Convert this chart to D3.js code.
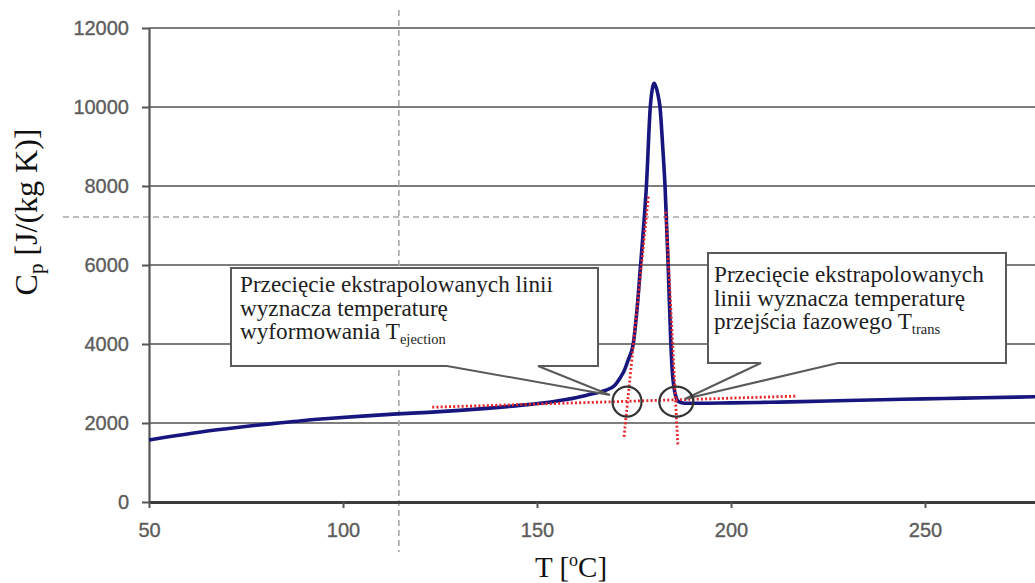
<!DOCTYPE html>
<html>
<head>
<meta charset="utf-8">
<script src="https://cdn.jsdelivr.net/npm/d3@7"></script>
<style>
  body { margin: 0; background: #fff; }
  svg { display: block; }
</style>
</head>
<body>
<svg id="chart" width="1035" height="583"></svg>
<script>
// Measured specific heat curve, Cp [J/(kg K)] against temperature [°C]
const temperature = [50, 55, 62, 70, 77, 84, 90, 97, 105, 114, 122, 130, 137, 145, 154, 160, 163, 166, 168, 170,
  171.4, 172.5, 173.5, 174.8, 175.8, 176.7, 177.5, 178.2, 179.2, 179.8, 180.2, 180.7, 181.2, 181.7, 182.4, 183,
  183.8, 184.5, 184.9, 185.3, 185.8, 186.5, 188, 191, 200, 210, 218, 230, 244, 255, 265, 279];
const cp = [1570, 1650, 1755, 1855, 1935, 2005, 2065, 2120, 2175, 2230, 2270, 2320, 2370, 2440, 2540, 2640, 2710, 2780, 2840, 2950,
  3140, 3330, 3595, 4000, 4900, 6000, 7000, 8000, 10000, 10500, 10600, 10500, 10300, 10000, 9000, 8000,
  6000, 4000, 3260, 2900, 2665, 2540, 2500, 2500, 2510, 2525, 2540, 2570, 2600, 2620, 2640, 2665];

// Axis ticks
const xTicks = [50, 100, 150, 200, 250];
const yTicks = [0, 2000, 4000, 6000, 8000, 10000, 12000];

// Extrapolated construction lines (red dotted)
const baselineT = [123, 217];
const baselineCp = [2400, 2680];
const ejectionTangentT = [178.7, 172.4];
const ejectionTangentCp = [7730, 1620];
const transTangentT = [183.2, 186.3];
const transTangentCp = [7350, 1440];

// Intersection markers: T_ejection and T_trans
const markerT = [173.2, 185.9];
const markerCp = [2540, 2540];

// Reference guide lines (grey dashed)
const guideT = 114.4;
const guideCp = 7215;

// Callout texts and the points they refer to
const noteEjection = ["Przecięcie ekstrapolowanych linii", "wyznacza temperaturę", "wyformowania T"];
const noteEjectionSub = "ejection";
const noteEjectionTarget = [168.8, 2710];
const noteTrans = ["Przecięcie ekstrapolowanych", "linii wyznacza temperaturę", "przejścia fazowego T"];
const noteTransSub = "trans";
const noteTransTarget = [188.1, 2608];

const W = 1035, H = 583;
const svg = d3.select("#chart");

const x = d3.scaleLinear().domain([50, 280]).range([149, 149 + 230 * 194 / 50]);
const y = d3.scaleLinear().domain([0, 12000]).range([502, 28]);

// Horizontal gridlines
svg.append("g")
  .selectAll("line")
  .data(yTicks.filter(d => d > 0))
  .join("line")
  .attr("x1", x(50)).attr("x2", W)
  .attr("y1", d => y(d)).attr("y2", d => y(d))
  .attr("stroke", "#7d7d7d").attr("stroke-width", 2);

// Grey dashed guide lines
svg.append("line")
  .attr("x1", 63).attr("x2", W)
  .attr("y1", y(guideCp)).attr("y2", y(guideCp))
  .attr("stroke", "#a8a8a8").attr("stroke-width", 1.6).attr("stroke-dasharray", "6,4");
svg.append("line")
  .attr("x1", x(guideT)).attr("x2", x(guideT))
  .attr("y1", 10).attr("y2", 552)
  .attr("stroke", "#a8a8a8").attr("stroke-width", 1.6).attr("stroke-dasharray", "6,4");

// Y axis
const yAxis = svg.append("g")
  .attr("transform", `translate(${x(50)},0)`)
  .call(d3.axisLeft(y).tickValues(yTicks).tickFormat(d3.format("d")).tickSize(7).tickSizeOuter(0).tickPadding(13));
yAxis.select(".domain").attr("stroke", "#555").attr("stroke-width", 2.2);
yAxis.selectAll(".tick line").attr("stroke", "#555").attr("stroke-width", 2);
yAxis.selectAll(".tick text")
  .attr("font-family", "Liberation Sans, Arial, sans-serif")
  .attr("font-size", 20).attr("fill", "#5c5c5c")
  .attr("stroke", "#5c5c5c").attr("stroke-width", 0.35);

// X axis
const xAxis = svg.append("g")
  .attr("transform", `translate(0,${y(0)})`)
  .call(d3.axisBottom(x).tickValues(xTicks).tickFormat(d3.format("d")).tickSize(6).tickSizeOuter(0).tickPadding(15));
xAxis.select(".domain").attr("stroke", "#3c3c3c").attr("stroke-width", 3);
xAxis.selectAll(".tick line").attr("stroke", "#555").attr("stroke-width", 2);
xAxis.selectAll(".tick text")
  .attr("font-family", "Liberation Sans, Arial, sans-serif")
  .attr("font-size", 20).attr("fill", "#5c5c5c")
  .attr("stroke", "#5c5c5c").attr("stroke-width", 0.35);

// Axis titles
const yTitle = svg.append("text")
  .attr("transform", `translate(37,${212}) rotate(-90)`)
  .attr("text-anchor", "middle")
  .attr("font-family", "Liberation Serif, Times New Roman, serif")
  .attr("font-size", 32).attr("fill", "#111");
yTitle.append("tspan").text("C");
yTitle.append("tspan").attr("font-size", 21).attr("dy", 6).text("p");
yTitle.append("tspan").attr("dy", -6).text(" [J/(kg K)]");

const xTitle = svg.append("text")
  .attr("x", 571).attr("y", 577)
  .attr("text-anchor", "middle")
  .attr("font-family", "Liberation Serif, Times New Roman, serif")
  .attr("font-size", 29).attr("fill", "#111");
xTitle.append("tspan").text("T [");
xTitle.append("tspan").attr("font-size", 18).attr("dy", -11).text("o");
xTitle.append("tspan").attr("dy", 11).text("C]");

// Measured curve
const line = d3.line().x(d => x(d[0])).y(d => y(d[1])).curve(d3.curveMonotoneX);
svg.append("path")
  .datum(temperature.map((t, i) => [t, cp[i]]))
  .attr("d", line)
  .attr("fill", "none")
  .attr("stroke", "#16167e")
  .attr("stroke-width", 3.6)
  .attr("stroke-linejoin", "round");

// Red dotted extrapolations
const straight = d3.line().x(d => x(d[0])).y(d => y(d[1]));
[[baselineT, baselineCp], [ejectionTangentT, ejectionTangentCp], [transTangentT, transTangentCp]].forEach(([ts, vs]) => {
  svg.append("path")
    .datum(ts.map((t, i) => [t, vs[i]]))
    .attr("d", straight)
    .attr("fill", "none")
    .attr("stroke", "#e3262b")
    .attr("stroke-width", 2.8)
    .attr("stroke-dasharray", "2,2.2");
});

// Callout boxes with pointers
function callout(box, base, target, lines, sub, textX, firstBaseline) {
  const [tx, ty] = [x(target[0]), y(target[1])];
  const [l, t, r, b] = box;
  svg.append("path")
    .attr("d", `M${l},${t}H${r}V${b}H${base[1]}L${tx},${ty}L${base[0]},${b}H${l}Z`)
    .attr("fill", "#fff")
    .attr("stroke", "#5a5a5a")
    .attr("stroke-width", 2)
    .attr("stroke-linejoin", "miter");
  const txt = svg.append("text")
    .attr("font-family", "Liberation Serif, Times New Roman, serif")
    .attr("font-size", 23.2).attr("fill", "#1e1e1e");
  lines.forEach((s, i) => {
    txt.append("tspan").attr("x", textX).attr("y", firstBaseline + i * 23.6).text(s);
    if (i === lines.length - 1) {
      txt.append("tspan").attr("font-size", 14.5).attr("dy", 5).text(sub);
    }
  });
}
callout([231, 268, 598, 366], [447, 538], noteEjectionTarget, noteEjection, noteEjectionSub, 240, 292);
callout([708, 253, 1006, 363], [761, 838], noteTransTarget, noteTrans, noteTransSub, 714, 282);

// Intersection circles
svg.append("g")
  .selectAll("ellipse")
  .data(markerT.map((t, i) => [t, markerCp[i]]))
  .join("ellipse")
  .attr("cx", d => x(d[0])).attr("cy", d => y(d[1]))
  .attr("rx", (d, i) => i === 0 ? 14.5 : 17).attr("ry", 15)
  .attr("fill", "none")
  .attr("stroke", "#333")
  .attr("stroke-width", 2.2);
</script>
</body>
</html>
